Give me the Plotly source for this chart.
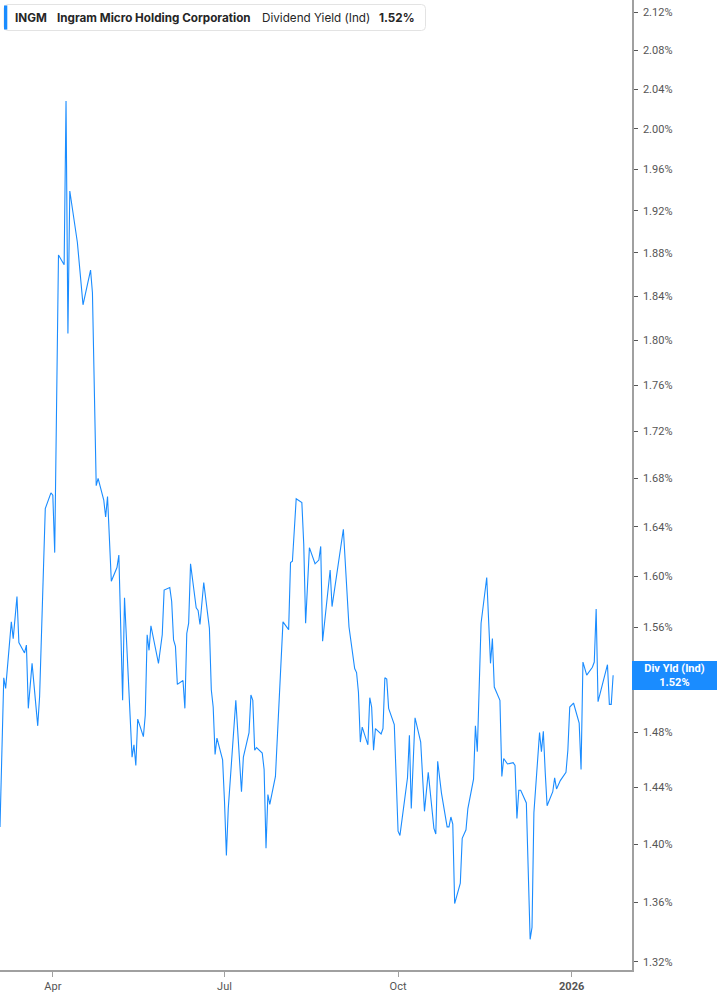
import math
import plotly.graph_objects as go

# ---- data ----
dates = [
    "2025-03-04", "2025-03-06", "2025-03-07", "2025-03-10", "2025-03-11", "2025-03-13", "2025-03-14",
    "2025-03-17", "2025-03-18", "2025-03-19", "2025-03-21", "2025-03-24", "2025-03-25", "2025-03-28",
    "2025-03-31", "2025-04-01", "2025-04-02", "2025-04-04", "2025-04-07", "2025-04-08", "2025-04-09",
    "2025-04-10", "2025-04-14", "2025-04-17", "2025-04-21", "2025-04-22", "2025-04-24", "2025-04-25",
    "2025-04-28", "2025-04-29", "2025-04-30", "2025-05-02", "2025-05-05", "2025-05-06", "2025-05-08",
    "2025-05-09", "2025-05-13", "2025-05-14", "2025-05-15", "2025-05-16", "2025-05-19", "2025-05-20",
    "2025-05-21", "2025-05-22", "2025-05-23", "2025-05-27", "2025-05-29", "2025-05-30", "2025-06-02",
    "2025-06-03", "2025-06-04", "2025-06-05", "2025-06-06", "2025-06-09", "2025-06-10", "2025-06-11",
    "2025-06-12", "2025-06-13", "2025-06-16", "2025-06-17", "2025-06-18", "2025-06-20", "2025-06-23",
    "2025-06-24", "2025-06-25", "2025-06-26", "2025-06-27", "2025-06-30", "2025-07-01", "2025-07-02",
    "2025-07-03", "2025-07-07", "2025-07-10", "2025-07-11", "2025-07-14", "2025-07-15", "2025-07-16",
    "2025-07-17", "2025-07-18", "2025-07-21", "2025-07-22", "2025-07-23", "2025-07-24", "2025-07-25",
    "2025-07-28", "2025-08-01", "2025-08-04", "2025-08-05", "2025-08-06", "2025-08-08", "2025-08-11",
    "2025-08-12", "2025-08-13", "2025-08-15", "2025-08-18", "2025-08-20", "2025-08-21", "2025-08-22",
    "2025-08-26", "2025-08-27", "2025-09-02", "2025-09-05", "2025-09-08", "2025-09-09", "2025-09-10",
    "2025-09-11", "2025-09-12", "2025-09-15", "2025-09-16", "2025-09-17", "2025-09-18", "2025-09-19",
    "2025-09-22", "2025-09-23", "2025-09-24", "2025-09-25", "2025-09-26", "2025-09-29", "2025-10-01",
    "2025-10-02", "2025-10-06", "2025-10-07", "2025-10-08", "2025-10-10", "2025-10-13", "2025-10-15",
    "2025-10-17", "2025-10-20", "2025-10-21", "2025-10-22", "2025-10-24", "2025-10-27", "2025-10-28",
    "2025-10-29", "2025-10-30", "2025-10-31", "2025-11-03", "2025-11-04", "2025-11-06", "2025-11-07",
    "2025-11-10", "2025-11-11", "2025-11-12", "2025-11-14", "2025-11-17", "2025-11-19", "2025-11-20",
    "2025-11-21", "2025-11-24", "2025-11-25", "2025-11-26", "2025-11-28", "2025-12-01", "2025-12-02",
    "2025-12-03", "2025-12-04", "2025-12-05", "2025-12-08", "2025-12-10", "2025-12-11", "2025-12-12",
    "2025-12-15", "2025-12-16", "2025-12-17", "2025-12-18", "2025-12-19", "2025-12-22", "2025-12-23",
    "2025-12-24", "2025-12-26", "2025-12-29", "2025-12-30", "2025-12-31", "2026-01-02", "2026-01-05",
    "2026-01-06", "2026-01-07", "2026-01-09", "2026-01-12", "2026-01-13", "2026-01-14", "2026-01-15",
    "2026-01-20", "2026-01-21", "2026-01-22", "2026-01-23",
]

div_yield = [
    1.412, 1.521, 1.513, 1.564, 1.551, 1.584, 1.548,
    1.540, 1.546, 1.498, 1.532, 1.485, 1.507, 1.655,
    1.668, 1.666, 1.619, 1.878, 1.869, 2.028, 1.806,
    1.939, 1.890, 1.832, 1.864, 1.843, 1.674, 1.680,
    1.662, 1.648, 1.665, 1.596, 1.607, 1.617, 1.504,
    1.583, 1.462, 1.471, 1.456, 1.490, 1.477, 1.493,
    1.554, 1.542, 1.561, 1.532, 1.554, 1.589, 1.591,
    1.580, 1.550, 1.545, 1.516, 1.519, 1.498, 1.555,
    1.563, 1.610, 1.575, 1.573, 1.562, 1.595, 1.559,
    1.512, 1.499, 1.464, 1.476, 1.460, 1.430, 1.392,
    1.425, 1.504, 1.437, 1.462, 1.480, 1.508, 1.504,
    1.467, 1.469, 1.465, 1.453, 1.397, 1.435, 1.428,
    1.448, 1.564, 1.558, 1.611, 1.612, 1.663, 1.660,
    1.626, 1.563, 1.623, 1.610, 1.613, 1.624, 1.549,
    1.605, 1.576, 1.638, 1.560, 1.528, 1.525, 1.510,
    1.473, 1.484, 1.471, 1.506, 1.499, 1.467, 1.483,
    1.479, 1.483, 1.521, 1.520, 1.498, 1.486, 1.409,
    1.406, 1.447, 1.478, 1.425, 1.491, 1.473, 1.423,
    1.451, 1.411, 1.407, 1.459, 1.436, 1.412, 1.412,
    1.419, 1.414, 1.359, 1.373, 1.404, 1.410, 1.425,
    1.446, 1.485, 1.466, 1.563, 1.599, 1.532, 1.551,
    1.514, 1.504, 1.448, 1.461, 1.457, 1.458, 1.456,
    1.418, 1.438, 1.438, 1.429, 1.335, 1.343, 1.422,
    1.480, 1.466, 1.481, 1.451, 1.427, 1.437, 1.447,
    1.439, 1.445, 1.451, 1.467, 1.499, 1.502, 1.487,
    1.453, 1.533, 1.523, 1.529, 1.533, 1.574, 1.503,
    1.531, 1.501, 1.501, 1.523,
]

y_ticks = [1.32, 1.36, 1.40, 1.44, 1.48, 1.52, 1.56, 1.60, 1.64, 1.68, 1.72,
           1.76, 1.80, 1.84, 1.88, 1.92, 1.96, 2.00, 2.04, 2.08, 2.12]
y_tick_labels = [f"{v:.2f}%" for v in y_ticks]

x_ticks = ["2025-04-01", "2025-07-01", "2025-10-01", "2026-01-01"]
x_tick_labels = ["Apr", "Jul", "Oct", "<b>2026</b>"]

ticker = "INGM"
company = "Ingram Micro Holding Corporation"
metric = "Dividend Yield (Ind)"
short_metric = "Div Yld (Ind)"
last_value = div_yield[-1]

# ---- figure ----
W, H = 717, 1005
ML, MR, MT, MB = 0, 85, 0, 35
PW, PH = W - ML - MR, H - MT - MB

BLUE = "#1a8cff"

fig = go.Figure()
fig.add_trace(go.Scatter(
    x=dates, y=div_yield, mode="lines",
    line=dict(color=BLUE, width=1.1),
    hoverinfo="skip", showlegend=False,
))

fig.update_layout(
    width=W, height=H,
    margin=dict(l=ML, r=MR, t=MT, b=MB),
    paper_bgcolor="white", plot_bgcolor="white",
    showlegend=False,
    font=dict(family="Roboto, Arial, sans-serif", size=11, color="#555"),
)

fig.update_xaxes(
    type="date",
    range=["2025-03-04", "2026-02-02"],
    tickvals=x_ticks, ticktext=x_tick_labels,
    showgrid=False, zeroline=False,
    showline=True, linecolor="#a0a0a0", linewidth=1.5,
    ticks="outside", ticklen=5, tickcolor="#a0a0a0", tickwidth=1,
    tickfont=dict(size=11, color="#555"),
)

fig.update_yaxes(
    type="log", side="right",
    range=[0.11884, 0.32894],
    tickvals=y_ticks, ticktext=y_tick_labels,
    showgrid=False, zeroline=False,
    showline=True, linecolor="#a0a0a0", linewidth=1.5,
    ticks="outside", ticklen=4, tickcolor="#555", tickwidth=1,
    tickfont=dict(size=11, color="#555"),
    ticklabelstandoff=3,
)

# header box (paper coordinates from pixel positions)
def px_x(p):
    return (p - ML) / PW

def px_y(p):
    return 1 - (p - MT) / PH

x0, x1, y0, y1 = px_x(4), px_x(425.5), px_y(30.5), px_y(4.5)
rx, ry = 4 / PW, 4 / PH
path = (f"M {x0+rx},{y1} L {x1-rx},{y1} Q {x1},{y1} {x1},{y1-ry} "
        f"L {x1},{y0+ry} Q {x1},{y0} {x1-rx},{y0} L {x0+rx},{y0} "
        f"Q {x0},{y0} {x0},{y0+ry} L {x0},{y1-ry} Q {x0},{y1} {x0+rx},{y1} Z")
fig.add_shape(type="path", path=path, xref="paper", yref="paper",
              fillcolor="white", line=dict(color="#e3e3e3", width=1), layer="above")
fig.add_shape(type="rect", xref="paper", yref="paper",
              x0=px_x(4), x1=px_x(7.3), y0=px_y(29.5), y1=px_y(5.5),
              fillcolor=BLUE, line=dict(width=0), layer="above")

hdr_font = dict(family="Inter, Roboto, sans-serif", size=11.7, color="#262626")
for text, xp in [(f"<b>{ticker}</b>", 12.5),
                 (f"<b>{company}</b>", 54.5),
                 (metric, 259.5),
                 (f"<b>{last_value:.2f}%</b>", 376.5)]:
    fig.add_annotation(text=text, x=px_x(xp), y=px_y(17.6), xref="paper", yref="paper",
                       xanchor="left", yanchor="middle", showarrow=False, font=hdr_font)

# last value tag on the right axis
fig.add_annotation(
    text=f"<b>{short_metric}</b><br><b>{last_value:.2f}%</b>",
    x=1, xref="paper", xanchor="left",
    y=math.log10(last_value), yref="y", yanchor="middle",
    showarrow=False, bgcolor=BLUE, borderpad=0, borderwidth=0,
    width=85, height=29, align="center",
    font=dict(family="Roboto, Arial, sans-serif", size=11, color="white"),
)

fig.write_html("out.html", config={"displayModeBar": False},
               post_script="document.body.style.margin='0';")
